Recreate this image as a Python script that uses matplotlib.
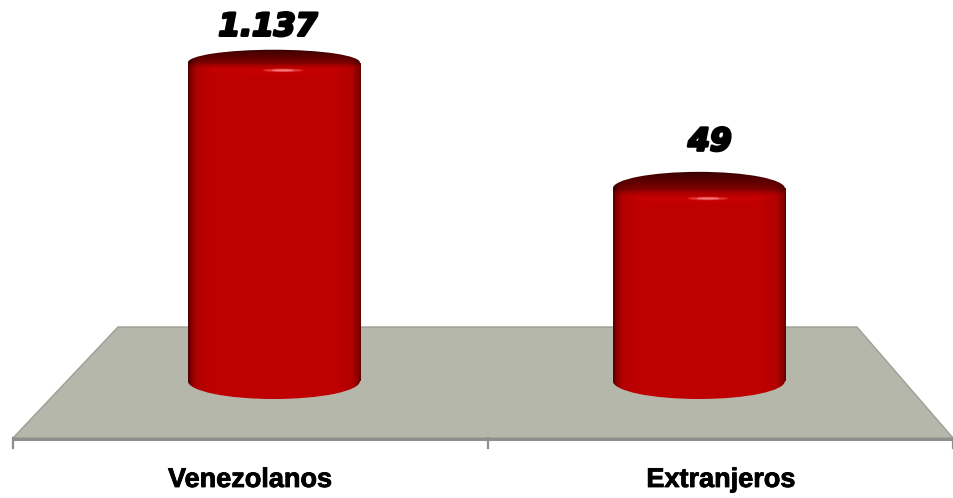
import numpy as np
import matplotlib
matplotlib.use('Agg')
import matplotlib.pyplot as plt
import matplotlib.patheffects as pe
from matplotlib.patches import Ellipse, Polygon, Rectangle

# data (Spanish thousands separator: 1.137 = 1137)
categories = ['Venezolanos', 'Extranjeros']
values = [1137, 49]

# layout / style (pixels, y grows downwards in the overlay axes)
W, H = 954, 498
label_x = [250, 721]
label_offsets = [(-6, 27), (11, 38)]
red = 0.75

fig = plt.figure(figsize=(W / 100, H / 100), dpi=100)
fig.patch.set_facecolor('white')

# background layer: the grey floor and the base line
bg = fig.add_axes([0, 0, 1, 1])
bg.set_xlim(0, W)
bg.set_ylim(H, 0)
bg.axis('off')
bg.add_patch(Polygon([(118, 327), (857, 327), (953, 438), (13, 438)], closed=True,
                     fc='#b4b7a9', ec='#9d9f95', lw=1))
bg.plot([13, 953], [438.5, 438.5], color='#8e8e8e', lw=2.2, solid_capstyle='butt')
for xt in [13, 488, 953]:
    bg.plot([xt, xt], [438, 448], color='#8e8e8e', lw=1.6)

# bar layer: log scale so both bars fit like in the original
left_px, right_px, top_px, bot_px = 13, 953, 40, 381
ax = fig.add_axes([left_px / W, (H - bot_px) / H, (right_px - left_px) / W, (bot_px - top_px) / H])
ax.set_yscale('log')
base = 0.4
ax.set_ylim(base, 2000)
ax.set_xlim(-0.614, 1.598)
ax.axis('off')
ax.patch.set_visible(False)

x = np.arange(len(categories))
bars = ax.bar(x, np.array(values) - base, bottom=base, width=0.405, color='#c00000')

# foreground layer for the cylinder shading
fg = fig.add_axes([0, 0, 1, 1])
fg.set_xlim(0, W)
fg.set_ylim(H, 0)
fg.axis('off')
fg.patch.set_visible(False)


def to_px(pts):
    return fg.transData.inverted().transform(ax.transData.transform(pts))


t = np.linspace(0, 1, 300)
hshade = np.interp(t, [0, .02, .05, .15, .85, .95, .985, 1],
                   [.45, .7, .93, 1.0, 1.0, .93, .7, .5])
body = np.zeros((1, len(t), 3))
body[0, :, 0] = red * hshade

v = np.linspace(0, 1, 80)
vprof = np.interp(v, [0, .12, .4, .55, .65, .8, 1], [.2, .28, .42, .52, .68, .78, .76])
cap = np.zeros((len(v), len(t), 3))
cap[:, :, 0] = vprof[:, None] * hshade[None, :]

for i, bar in enumerate(bars):
    (x0, y0), (x1, y1) = to_px([(bar.get_x(), bar.get_y()),
                                (bar.get_x() + bar.get_width(), bar.get_y() + bar.get_height())])
    cx, w = (x0 + x1) / 2, x1 - x0
    rb = 18
    rt = 11 + 0.03 * y1

    rect = Rectangle((x0, y1), w, y0 - y1, fc='none', ec='none')
    ell_b = Ellipse((cx, y0), w, 2 * rb, fc='none', ec='none')
    for clip in (rect, ell_b):
        fg.add_patch(clip)
        im = fg.imshow(body, extent=(x0, x1, y0 + rb, y1), aspect='auto',
                       interpolation='bilinear', zorder=3)
        im.set_clip_path(clip)

    ell_t = Ellipse((cx, y1), w, 2 * rt, fc='none', ec='none')
    fg.add_patch(ell_t)
    im = fg.imshow(cap, extent=(x0, x1, y1 + rt, y1 - rt), aspect='auto',
                   interpolation='bilinear', zorder=4)
    im.set_clip_path(ell_t)

    # small glossy streak on the rim
    fg.add_patch(Ellipse((cx + 9, y1 + rt * 0.6), 40, 3.5, fc='#ff6060', ec='none', alpha=0.5, zorder=5))
    fg.add_patch(Ellipse((cx + 9, y1 + rt * 0.6), 22, 2, fc='#ff9a9a', ec='none', alpha=0.7, zorder=5))

# value labels
for i, val in enumerate(values):
    txt = f"{val:,}".replace(',', '.')
    ax.annotate(txt, xy=(x[i], val), xytext=label_offsets[i], textcoords='offset pixels',
                ha='center', va='baseline', fontsize=22.5, fontweight='bold', fontstyle='italic',
                family='DejaVu Sans', color='black', annotation_clip=False,
                path_effects=[pe.withStroke(linewidth=2, foreground='black')])

# category labels
for i, cat in enumerate(categories):
    fg.text(label_x[i], 487, cat, ha='center', va='baseline', fontsize=19.5,
            fontweight='bold', family='Liberation Sans', color='black',
            path_effects=[pe.withStroke(linewidth=0.6, foreground='black')])

fg.set_xlim(0, W)
fg.set_ylim(H, 0)
fig.savefig('out.png', dpi=100)
